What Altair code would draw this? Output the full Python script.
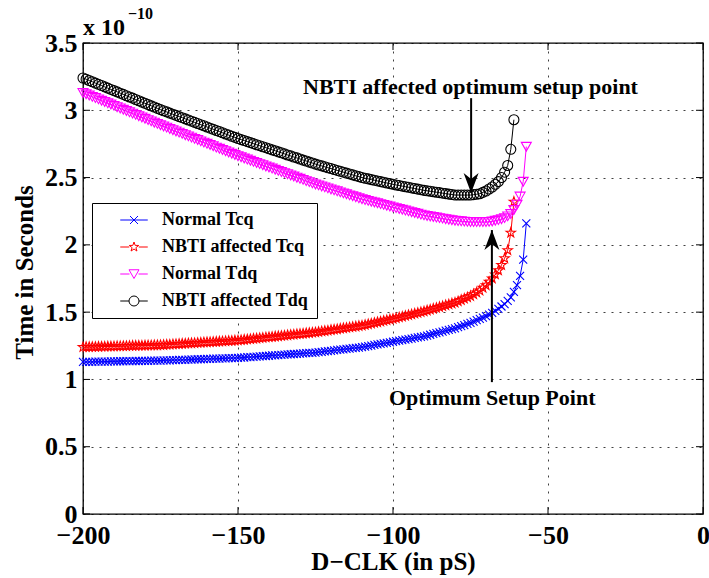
import altair as alt
import pandas as pd

# ---------------- data ----------------
series_names = ["Normal Tcq", "NBTI affected Tcq", "Normal Tdq", "NBTI affected Tdq"]
series_colors = ["#0000ff", "#ff0000", "#ff00ff", "#000000"]

d_clk_normal = list(range(-200, -56))   # -200 ... -57 pS
d_clk_nbti = list(range(-200, -60))     # -200 ... -61 pS

normal_tcq = [
    1.130, 1.130, 1.131, 1.131, 1.132, 1.132, 1.132, 1.133, 1.133, 1.134,
    1.134, 1.134, 1.135, 1.135, 1.136, 1.136, 1.136, 1.137, 1.137, 1.138,
    1.138, 1.138, 1.139, 1.139, 1.140, 1.140, 1.141, 1.142, 1.142, 1.143,
    1.144, 1.145, 1.146, 1.146, 1.147, 1.148, 1.149, 1.150, 1.150, 1.151,
    1.152, 1.153, 1.154, 1.154, 1.155, 1.156, 1.157, 1.158, 1.158, 1.159,
    1.160, 1.162, 1.163, 1.165, 1.166, 1.168, 1.170, 1.171, 1.173, 1.174,
    1.176, 1.178, 1.179, 1.181, 1.182, 1.184, 1.186, 1.187, 1.189, 1.190,
    1.192, 1.194, 1.195, 1.197, 1.198, 1.200, 1.203, 1.205, 1.208, 1.211,
    1.213, 1.216, 1.219, 1.221, 1.224, 1.227, 1.229, 1.232, 1.235, 1.237,
    1.240, 1.244, 1.248, 1.252, 1.256, 1.260, 1.264, 1.268, 1.272, 1.276,
    1.280, 1.284, 1.288, 1.292, 1.296, 1.300, 1.304, 1.308, 1.312, 1.316,
    1.320, 1.326, 1.332, 1.338, 1.344, 1.350, 1.356, 1.362, 1.368, 1.374,
    1.380, 1.388, 1.396, 1.404, 1.412, 1.420, 1.430, 1.440, 1.450, 1.460,
    1.470, 1.482, 1.495, 1.510, 1.525, 1.542, 1.560, 1.583, 1.610, 1.650,
    1.700, 1.770, 1.890, 2.160,
]

nbti_tcq = [
    1.240, 1.241, 1.241, 1.242, 1.242, 1.243, 1.244, 1.244, 1.245, 1.245,
    1.246, 1.247, 1.247, 1.248, 1.248, 1.249, 1.250, 1.250, 1.251, 1.251,
    1.252, 1.253, 1.253, 1.254, 1.254, 1.255, 1.256, 1.258, 1.259, 1.261,
    1.262, 1.263, 1.265, 1.266, 1.268, 1.269, 1.270, 1.272, 1.273, 1.275,
    1.276, 1.277, 1.279, 1.280, 1.282, 1.283, 1.284, 1.286, 1.287, 1.289,
    1.290, 1.292, 1.295, 1.297, 1.300, 1.302, 1.304, 1.307, 1.309, 1.312,
    1.314, 1.316, 1.319, 1.321, 1.324, 1.326, 1.328, 1.331, 1.333, 1.336,
    1.338, 1.340, 1.343, 1.345, 1.348, 1.350, 1.353, 1.357, 1.360, 1.363,
    1.367, 1.370, 1.373, 1.377, 1.380, 1.383, 1.387, 1.390, 1.393, 1.397,
    1.400, 1.405, 1.410, 1.415, 1.420, 1.425, 1.430, 1.435, 1.440, 1.445,
    1.450, 1.455, 1.461, 1.466, 1.472, 1.478, 1.483, 1.489, 1.494, 1.500,
    1.505, 1.512, 1.518, 1.525, 1.531, 1.538, 1.544, 1.551, 1.557, 1.564,
    1.570, 1.580, 1.590, 1.600, 1.610, 1.620, 1.633, 1.646, 1.660, 1.680,
    1.700, 1.725, 1.750, 1.780, 1.810, 1.850, 1.900, 1.960, 2.090, 2.320,
]

normal_tdq = [
    3.130, 3.120, 3.111, 3.101, 3.092, 3.082, 3.072, 3.063, 3.053, 3.044,
    3.034, 3.024, 3.015, 3.005, 2.996, 2.986, 2.976, 2.967, 2.957, 2.948,
    2.938, 2.928, 2.919, 2.909, 2.900, 2.890, 2.881, 2.872, 2.862, 2.853,
    2.844, 2.835, 2.826, 2.816, 2.807, 2.798, 2.789, 2.780, 2.770, 2.761,
    2.752, 2.743, 2.734, 2.724, 2.715, 2.706, 2.697, 2.688, 2.678, 2.669,
    2.660, 2.652, 2.643, 2.635, 2.626, 2.618, 2.610, 2.601, 2.593, 2.584,
    2.576, 2.568, 2.559, 2.551, 2.542, 2.534, 2.526, 2.517, 2.509, 2.500,
    2.492, 2.484, 2.475, 2.467, 2.458, 2.450, 2.443, 2.435, 2.428, 2.421,
    2.413, 2.406, 2.399, 2.391, 2.384, 2.377, 2.369, 2.362, 2.355, 2.347,
    2.340, 2.334, 2.328, 2.322, 2.316, 2.310, 2.304, 2.298, 2.292, 2.286,
    2.280, 2.274, 2.268, 2.262, 2.256, 2.250, 2.244, 2.238, 2.232, 2.226,
    2.220, 2.216, 2.212, 2.208, 2.204, 2.200, 2.196, 2.192, 2.188, 2.184,
    2.180, 2.178, 2.176, 2.174, 2.172, 2.170, 2.170, 2.170, 2.170, 2.170,
    2.170, 2.172, 2.175, 2.180, 2.185, 2.192, 2.200, 2.213, 2.230, 2.260,
    2.300, 2.360, 2.470, 2.730,
]

nbti_tdq = [
    3.240, 3.231, 3.221, 3.212, 3.202, 3.193, 3.184, 3.174, 3.165, 3.155,
    3.146, 3.137, 3.127, 3.118, 3.108, 3.099, 3.090, 3.080, 3.071, 3.061,
    3.052, 3.043, 3.033, 3.024, 3.014, 3.005, 2.996, 2.988, 2.979, 2.971,
    2.962, 2.953, 2.945, 2.936, 2.928, 2.919, 2.910, 2.902, 2.893, 2.885,
    2.876, 2.867, 2.859, 2.850, 2.842, 2.833, 2.824, 2.816, 2.807, 2.799,
    2.790, 2.782, 2.775, 2.767, 2.760, 2.752, 2.744, 2.737, 2.729, 2.722,
    2.714, 2.706, 2.699, 2.691, 2.684, 2.676, 2.668, 2.661, 2.653, 2.646,
    2.638, 2.630, 2.623, 2.615, 2.608, 2.600, 2.593, 2.587, 2.580, 2.573,
    2.567, 2.560, 2.553, 2.547, 2.540, 2.533, 2.527, 2.520, 2.513, 2.507,
    2.500, 2.495, 2.490, 2.485, 2.480, 2.475, 2.470, 2.465, 2.460, 2.455,
    2.450, 2.445, 2.441, 2.436, 2.432, 2.428, 2.423, 2.419, 2.414, 2.410,
    2.405, 2.402, 2.398, 2.395, 2.391, 2.388, 2.384, 2.381, 2.377, 2.374,
    2.370, 2.370, 2.370, 2.370, 2.370, 2.370, 2.373, 2.376, 2.380, 2.390,
    2.400, 2.415, 2.430, 2.450, 2.470, 2.500, 2.540, 2.590, 2.710, 2.930,
]

x_tick_values = [-200, -150, -100, -50, 0]
y_tick_values = [0, 0.5, 1, 1.5, 2, 2.5, 3, 3.5]

annotation_labels = ["NBTI affected optimum setup point", "Optimum Setup Point"]
annotation_text_x = [-75, -68]
annotation_text_y = [3.17, 0.86]
arrow_x = [-74.8, -68.1]
arrow_tail_y = [3.09, 0.98]
arrow_tip_y = [2.385, 2.11]

# ---------------- styling ----------------
FONT = "Liberation Serif"
W, H = 620, 471

STAR = ("M0,-1L0.235,-0.324L0.951,-0.309L0.38,0.124L0.588,0.809L0,0.4"
        "L-0.588,0.809L-0.38,0.124L-0.951,-0.309L-0.235,-0.324Z")
XMARK = "M-0.8,-0.8L0.8,0.8M-0.8,0.8L0.8,-0.8"
CIRC = "M1,0A1,1,0,1,1,-1,0A1,1,0,1,1,1,0"
TRI_DOWN = "M-1,-0.85L1,-0.85L0,0.9Z"

plot_shapes = [XMARK, STAR, TRI_DOWN, CIRC]
legend_shapes = [
    "M-2.75,0H2.75" + XMARK,
    "M-2.75,0H-0.95M0.95,0H2.75" + STAR,
    "M-2.75,0H-0.9M0.9,0H2.75" + TRI_DOWN,
    "M-2.75,0H-1M1,0H2.75" + CIRC,
]

xscale = alt.Scale(domain=[-200, 0], nice=False, zero=False)
yscale = alt.Scale(domain=[0, 3.5], nice=False, zero=False)

x_axis = alt.Axis(values=x_tick_values, title="D\u2212CLK (in pS)", grid=True,
                  ticks=False, domain=False, labelPadding=8, titlePadding=1,
                  labelFlush=False, labelOverlap=False)
y_axis = alt.Axis(values=y_tick_values, title="Time in Seconds", grid=True,
                  ticks=False, domain=False, labelPadding=6, titlePadding=7,
                  titleY=229, format="~g", labelFlush=False, labelOverlap=False)


def X():
    return alt.X("x:Q", scale=xscale, axis=x_axis)


def Y():
    return alt.Y("y:Q", scale=yscale, axis=y_axis)


series_x = [d_clk_normal, d_clk_nbti, d_clk_normal, d_clk_nbti]
series_y = [normal_tcq, nbti_tcq, normal_tdq, nbti_tdq]

layers = []
for name, color, shape, xs, ys in zip(series_names, series_colors, plot_shapes, series_x, series_y):
    df = pd.DataFrame({"x": xs, "y": ys})
    line = alt.Chart(df).mark_line(color=color, strokeWidth=1).encode(x=X(), y=Y())
    pts = alt.Chart(df).mark_point(shape=shape, filled=False, color=color, size=100,
                                   strokeWidth=1.1, opacity=1).encode(x=X(), y=Y())
    layers += [line, pts]

# legend-only layer (points clipped away, legend kept)
LABEL_EXPR = "datum.label + '\u00a0\u00a0\u00a0\u00a0\u00a0'"
legend_df = pd.DataFrame({"series": series_names})
legend_layer = alt.Chart(legend_df).mark_point(filled=False, clip=True, size=100,
                                               strokeWidth=1, opacity=1).encode(
    x=alt.value(-400), y=alt.value(-400),
    color=alt.Color("series:N", scale=alt.Scale(domain=series_names, range=series_colors),
                    legend=alt.Legend(title=None, labelExpr=LABEL_EXPR)),
    shape=alt.Shape("series:N", scale=alt.Scale(domain=series_names, range=legend_shapes),
                    legend=alt.Legend(title=None, labelExpr=LABEL_EXPR)),
)
layers.append(legend_layer)

# inward ticks like MATLAB
xt = pd.DataFrame({"x": x_tick_values})
yt = pd.DataFrame({"y": y_tick_values})
layers.append(alt.Chart(xt).mark_rule(color="black", strokeWidth=1).encode(
    x=X(), y=alt.value(H - 7), y2=alt.value(H)))
layers.append(alt.Chart(xt).mark_rule(color="black", strokeWidth=1).encode(
    x=X(), y=alt.value(0), y2=alt.value(7)))
layers.append(alt.Chart(yt).mark_rule(color="black", strokeWidth=1).encode(
    y=Y(), x=alt.value(0), x2=alt.value(7)))
layers.append(alt.Chart(yt).mark_rule(color="black", strokeWidth=1).encode(
    y=Y(), x=alt.value(W - 7), x2=alt.value(W)))

# arrows
arr = pd.DataFrame({"x": arrow_x, "y": arrow_tail_y, "y2": arrow_tip_y})
layers.append(alt.Chart(arr).mark_rule(color="black", strokeWidth=2).encode(
    x=X(), y=Y(), y2="y2:Q"))
head_down = pd.DataFrame({"x": arrow_x[:1], "y": arrow_tip_y[:1]})
head_up = pd.DataFrame({"x": arrow_x[1:], "y": arrow_tip_y[1:]})
layers.append(alt.Chart(head_down).mark_point(
    shape="M0,0L-0.75,-2L0,-1.4L0.75,-2Z", filled=True, color="black", size=400, opacity=1
).encode(x=X(), y=Y()))
layers.append(alt.Chart(head_up).mark_point(
    shape="M0,0L-0.75,2L0,1.4L0.75,2Z", filled=True, color="black", size=400, opacity=1
).encode(x=X(), y=Y()))

# annotation texts
ann = pd.DataFrame({"x": annotation_text_x, "y": annotation_text_y, "label": annotation_labels})
layers.append(alt.Chart(ann).mark_text(font=FONT, fontWeight="bold", fontSize=22,
                                       color="black", align="center", baseline="middle").encode(
    x=X(), y=Y(), text="label:N"))

# exponent label "x 10^-10"
expo = pd.DataFrame({"t": ["x 10"]})
layers.append(alt.Chart(expo).mark_text(font=FONT, fontWeight="bold", fontSize=24, color="black",
                                        align="left", baseline="alphabetic").encode(
    x=alt.value(0), y=alt.value(-8), text="t:N"))
expo2 = pd.DataFrame({"t": ["\u221210"]})
layers.append(alt.Chart(expo2).mark_text(font=FONT, fontWeight="bold", fontSize=16, color="black",
                                         align="left", baseline="alphabetic").encode(
    x=alt.value(45), y=alt.value(-24), text="t:N"))

chart = alt.layer(*layers).properties(
    width=W, height=H,
    autosize=alt.AutoSizeParams(type="none"),
    padding={"left": 83, "top": 43, "right": 6, "bottom": 64},
    background="white",
).configure_view(
    stroke="black", strokeWidth=1.3
).configure_axis(
    labelFont=FONT, labelFontWeight="bold", labelFontSize=26, labelColor="black",
    titleFont=FONT, titleFontWeight="bold", titleFontSize=25, titleColor="black",
    gridColor="#000000", gridDash=[2, 6], gridWidth=1, gridOpacity=0.75,
).configure_legend(
    orient="none", legendX=9, legendY=160,
    strokeColor="black", fillColor="white", padding=8,
    labelFont=FONT, labelFontWeight="bold", labelFontSize=18, labelColor="black",
    symbolSize=100, symbolStrokeWidth=1, symbolOffset=25, labelOffset=19,
    rowPadding=9, cornerRadius=0, strokeWidth=1,
)

chart.save("out.html", embed_options={"renderer": "svg", "actions": False})
